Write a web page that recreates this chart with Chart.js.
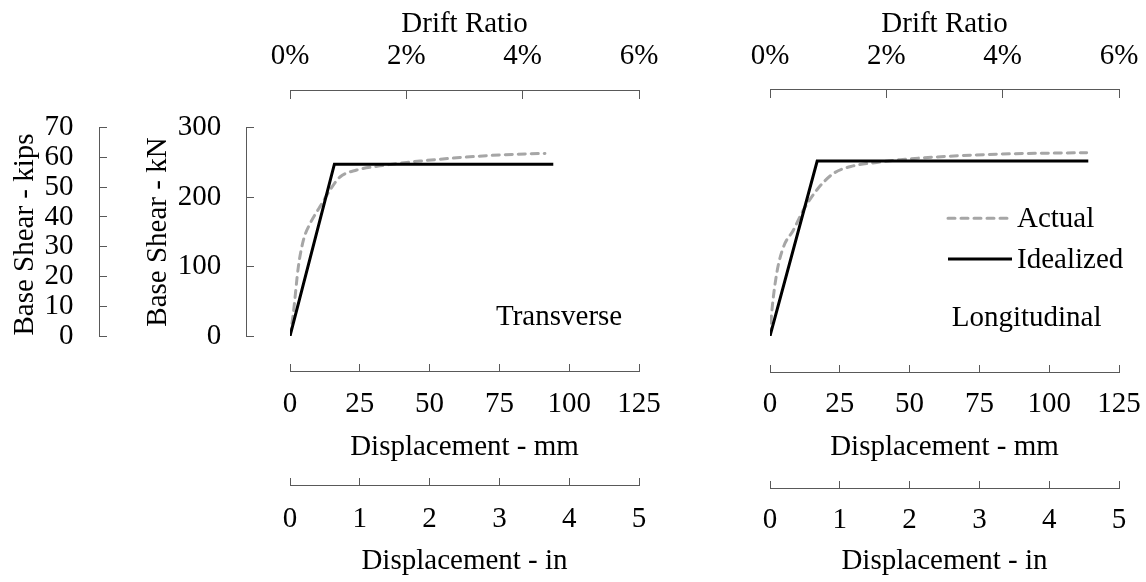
<!DOCTYPE html>
<html><head><meta charset="utf-8">
<script src="https://cdn.jsdelivr.net/npm/chart.js@4.4.1/dist/chart.umd.min.js"></script>
<style>
html,body{margin:0;padding:0;background:#fff;overflow:hidden;}
#wrap{position:relative;width:1146px;height:582px;overflow:hidden;background:#fff;}
canvas{position:absolute;left:0;top:0;}
</style></head><body>
<div id="wrap"><canvas id="c1" width="1146" height="582"></canvas><canvas id="c2" width="1246" height="582"></canvas></div>
<script>
// ---------- data ----------
const seriesLabels = ['Actual', 'Idealized'];
const panelLabels = ['Transverse', 'Longitudinal'];
const axisTitles = {drift: 'Drift Ratio', mm: 'Displacement - mm', inch: 'Displacement - in', kN: 'Base Shear - kN', kips: 'Base Shear - kips'};

const transverseActualMm = [0, 1.2, 3.0, 4.8, 7.2, 10.7, 14.3, 17.9, 23.9, 32.2, 41.8, 46.6, 60.9, 76.4, 91.3];
const transverseActualKN = [0, 33, 100, 138, 162, 186, 210, 229, 239, 245, 250, 252, 257, 261, 263];
const transverseIdealMm = [0, 15.9, 94.3];
const transverseIdealKN = [0, 247.5, 247.5];

const longitudinalActualMm = [0, 0.6, 2.4, 4.8, 8.3, 11.9, 16.7, 22.7, 29.8, 38.2, 46.6, 64.5, 82.4, 113.4];
const longitudinalActualKN = [0, 33, 90, 128, 152, 181, 210, 234, 245, 250, 254, 259, 262, 264];
const longitudinalIdealMm = [0, 16.9, 114];
const longitudinalIdealKN = [0, 252, 252];

const mmTicks = [0, 25, 50, 75, 100, 125];
const inTicks = [0, 1, 2, 3, 4, 5];
const driftTicks = [0, 2, 4, 6];
const kNTicks = [0, 100, 200, 300];
const kipsTicks = [0, 10, 20, 30, 40, 50, 60, 70];

// ---------- styling ----------
const FONT = 'Liberation Serif, Times New Roman, serif';
const FS = 29;
const AX = '#595959';
const TXT = '#000000';

function pts(xs, ys) { return xs.map((x, i) => ({x: x, y: ys[i]})); }
function fixedTicks(arr) { return function (s) { s.ticks = arr.map(v => ({value: v})); }; }

// axis line + tick marks (+ optional labels)
function axisCfg(axis, min, max, ticksArr, pos, tickLen, pad, cb, opts) {
  opts = opts || {};
  return {
    type: 'linear', axis: axis, min: min, max: max, position: pos, display: opts.show !== false,
    afterBuildTicks: fixedTicks(ticksArr),
    border: {display: opts.line !== false, color: AX, width: 1},
    grid: {display: opts.line !== false, drawOnChartArea: false, drawTicks: true, tickLength: tickLen, color: AX, tickColor: AX, lineWidth: 1},
    ticks: {display: opts.labels !== false, font: {family: FONT, size: FS}, color: TXT, padding: pad, maxRotation: 0, autoSkip: false, callback: cb || (v => String(v))}
  };
}

function datasets(aX, aY, iX, iY) {
  return [
    {label: seriesLabels[0], data: pts(aX, aY), borderColor: '#A6A6A6', borderWidth: 3, borderDash: [7, 6], borderCapStyle: 'round',
     pointRadius: 0, cubicInterpolationMode: 'monotone', fill: false, order: 1},
    {label: seriesLabels[1], data: pts(iX, iY), borderColor: '#000000', borderWidth: 3, pointRadius: 0, tension: 0, fill: false, order: 0,
     borderJoinStyle: 'miter'}
  ];
}

const textPlugin = {
  id: 'panelText',
  afterDraw(chart, args, opts) {
    const ctx = chart.ctx;
    const ca = chart.chartArea;
    const cx = (ca.left + ca.right) / 2;
    ctx.save();
    ctx.fillStyle = TXT;
    ctx.textBaseline = 'alphabetic';
    ctx.font = FS + 'px ' + FONT;
    for (const t of opts.items) {
      ctx.save();
      ctx.translate(t.x === 'center' ? cx : t.x, t.y);
      if (t.rotate) ctx.rotate(-Math.PI / 2);
      ctx.textAlign = t.align || 'center';
      ctx.fillText(t.text, 0, 0);
      ctx.restore();
    }
    if (opts.legend) {
      const L = opts.legend;
      const dsList = chart.data.datasets;
      const rows = seriesLabels.map(lbl => dsList.find(d => d.label === lbl));
      rows.forEach((ds, i) => {
        const y = L.y0 + i * L.dy;
        ctx.save();
        ctx.strokeStyle = ds.borderColor;
        ctx.lineWidth = ds.borderWidth;
        ctx.lineCap = ds.borderCapStyle || 'butt';
        ctx.setLineDash(ds.borderDash || []);
        ctx.beginPath();
        ctx.moveTo(L.x0, y);
        ctx.lineTo(L.x1, y);
        ctx.stroke();
        ctx.restore();
        ctx.textAlign = 'left';
        ctx.fillText(ds.label, L.tx, y + L.tdy);
      });
    }
    ctx.restore();
  }
};

Chart.defaults.font.family = FONT;

// ---------- left panel: Transverse ----------
new Chart(document.getElementById('c1'), {
  type: 'line',
  data: {datasets: datasets(transverseActualMm, transverseActualKN, transverseIdealMm, transverseIdealKN)},
  options: {
    responsive: false, maintainAspectRatio: false, animation: false, events: [], devicePixelRatio: 1,
    layout: {padding: {left: 290, right: 1146 - 639, top: 127.7, bottom: 582 - 336}},
    plugins: {
      legend: {display: false}, tooltip: {enabled: false},
      panelText: {items: [
        {text: axisTitles.drift, x: 'center', y: 32},
        {text: axisTitles.mm, x: 'center', y: 455},
        {text: axisTitles.inch, x: 'center', y: 569},
        {text: panelLabels[0], x: 496, y: 325, align: 'left'},
        {text: axisTitles.kN, x: 166, y: 232, rotate: true},
        {text: axisTitles.kips, x: 33, y: 234.5, rotate: true}
      ]}
    },
    scales: {
      x: axisCfg('x', 0, 125, mmTicks, {y: -51.4}, -8, 23),
      xin: axisCfg('x', 0, 5, inTicks, {y: -215.6}, -8, 24),
      xdrift: axisCfg('x', 0, 6, driftTicks, {y: 353.3}, 8, -59.4, v => v + '%'),
      y: axisCfg('y', 0, 300, kNTicks, {x: -15.5}, -8, 0, null, {labels: false}),
      yLabels: axisCfg('y', 0, 300, kNTicks, {x: -24.6}, 0, 0, null, {line: false}),
      ykips: axisCfg('y', 0, 70, kipsTicks, {x: -68.3}, -8, 0, null, {labels: false}),
      ykipsLabels: axisCfg('y', 0, 70, kipsTicks, {x: -77.5}, 0, 0, null, {line: false})
    }
  },
  plugins: [textPlugin]
});

// ---------- right panel: Longitudinal ----------
new Chart(document.getElementById('c2'), {
  type: 'line',
  data: {datasets: datasets(longitudinalActualMm, longitudinalActualKN, longitudinalIdealMm, longitudinalIdealKN)},
  options: {
    responsive: false, maintainAspectRatio: false, animation: false, events: [], devicePixelRatio: 1,
    layout: {padding: {left: 770, right: 1246 - 1119, top: 127.7, bottom: 582 - 336}},
    plugins: {
      legend: {display: false}, tooltip: {enabled: false},
      panelText: {items: [
        {text: axisTitles.drift, x: 'center', y: 32},
        {text: axisTitles.mm, x: 'center', y: 455},
        {text: axisTitles.inch, x: 'center', y: 569},
        {text: panelLabels[1], x: 951.7, y: 326, align: 'left'}
      ], legend: {x0: 948, x1: 1012, tx: 1017, y0: 218.3, dy: 40.7, tdy: 8.5}}
    },
    scales: {
      x: axisCfg('x', 0, 125, mmTicks, {y: -52.3}, -8, 23),
      xin: axisCfg('x', 0, 5, inTicks, {y: -219.4}, -8, 23),
      xdrift: axisCfg('x', 0, 6, driftTicks, {y: 354.3}, 8, -58.7, v => v + '%'),
      y: axisCfg('y', 0, 300, kNTicks, {x: -15.5}, -8, 0, null, {show: false})
    }
  },
  plugins: [textPlugin]
});
</script>
</body></html>
